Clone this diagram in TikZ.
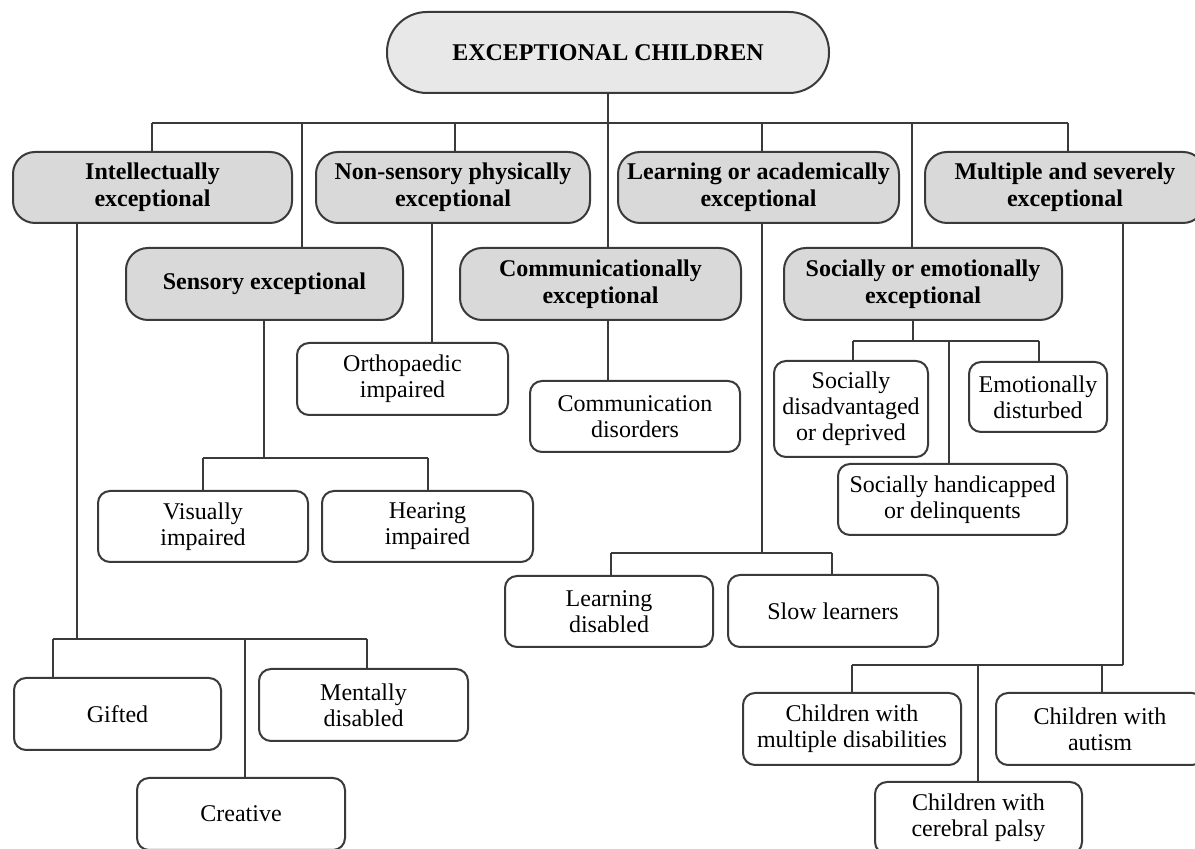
\documentclass[tikz,border=0pt]{standalone}
\usepackage{fontspec}
\setmainfont{Liberation Serif}
\definecolor{linec}{HTML}{3A3A3A}
\definecolor{grayf}{HTML}{D9D9D9}
\definecolor{topf}{HTML}{E8E8E8}
\tikzset{
  wbox/.style={draw=linec, line width=1pt, rounded corners=6pt, fill=white, align=center, inner sep=0pt,
    font=\fontsize{12}{13}\selectfont},
  gbox/.style={draw=linec, line width=1pt, rounded corners=11pt, fill=grayf, align=center, inner sep=0pt,
    font=\bfseries\fontsize{12}{13.5}\selectfont, minimum height=35.5pt},
  conn/.style={draw=linec, line width=1pt}
}
\begin{document}
\begin{tikzpicture}[x=0.5pt,y=-0.5pt]
\clip (0,0) rectangle (1195,849);
\fill[white] (0,0) rectangle (1195,849);
% root
\node[draw=linec, line width=1pt, rounded corners=20pt, fill=topf, minimum width=221pt, minimum height=40.5pt,
  inner sep=0pt, font=\bfseries\fontsize{12}{14}\selectfont] (root) at (608,52.5) {EXCEPTIONAL CHILDREN};
% level 1
\node[gbox, minimum width=139.5pt] (intel) at (152.5,187.5) {Intellectually\\exceptional};
\node[gbox, minimum width=137pt] (nons) at (453,187.5) {Non-sensory physically\\exceptional};
\node[gbox, minimum width=140.5pt] (learn) at (758.5,187.5) {Learning or academically\\exceptional};
\node[gbox, minimum width=140pt] (multi) at (1065,187.5) {Multiple and severely\\exceptional};
% level 2
\node[gbox, minimum width=138.5pt, minimum height=36pt] (sens) at (264.5,284) {Sensory exceptional};
\node[gbox, minimum width=140.5pt, minimum height=36pt] (comm) at (600.5,284) {Communicationally\\exceptional};
\node[gbox, minimum width=139pt, minimum height=36pt] (soc) at (923,284) {Socially or emotionally\\exceptional};
% leaves
\node[wbox, minimum width=105.5pt, minimum height=36pt] (ortho) at (402.5,379) {Orthopaedic\\impaired};
\node[wbox, minimum width=105pt, minimum height=35.5pt] (commd) at (635,416.5) {Communication\\disorders};
\node[wbox, minimum width=105pt, minimum height=35.5pt] (vis) at (203,526.5) {Visually\\impaired};
\node[wbox, minimum width=105.5pt, minimum height=35.5pt] (hear) at (427.5,526.5) {Hearing\\impaired};
\node[wbox, minimum width=103.5pt, minimum height=36pt] (gifted) at (117.5,714) {Gifted};
\node[wbox, minimum width=104.5pt, minimum height=36pt] (mental) at (363.5,705) {Mentally\\disabled};
\node[wbox, minimum width=104pt, minimum height=36pt] (creative) at (241,814) {Creative};
\node[wbox, minimum width=104pt, minimum height=35.5pt] (ldis) at (609,611.5) {Learning\\disabled};
\node[wbox, minimum width=105pt, minimum height=36pt] (slow) at (833,611) {Slow learners};
\node[wbox, minimum width=77pt, minimum height=48pt] (sdis) at (851,409) {Socially\\disadvantaged\\or deprived};
\node[wbox, minimum width=69pt, minimum height=35pt] (emo) at (1038,397) {Emotionally\\disturbed};
\node[wbox, minimum width=114.5pt, minimum height=35.5pt] (shand) at (952.5,499.5) {Socially handicapped\\or delinquents};
\node[wbox, minimum width=109pt, minimum height=36pt] (cmult) at (852,729) {Children with\\multiple disabilities};
\node[wbox, minimum width=104pt, minimum height=36pt] (caut) at (1100,729) {Children with\\autism};
\node[wbox, minimum width=103.5pt, minimum height=36pt] (ccer) at (978.5,818) {Children with\\cerebral palsy};
% main bar
\coordinate (rootbar) at (608,123);
\coordinate (barL) at (152,123);
\coordinate (barR) at (1068,123);
\draw[conn] (root.south) -- (rootbar);
\draw[conn] (barL) -- (barR);
\draw[conn] (barL) -- (152,0 |- intel.north);
\draw[conn] (302,123) -- (302,0 |- sens.north);
\draw[conn] (455,123) -- (455,0 |- nons.north);
\draw[conn] (rootbar) -- (608,0 |- comm.north);
\draw[conn] (762,123) -- (762,0 |- learn.north);
\draw[conn] (912,123) -- (912,0 |- soc.north);
\draw[conn] (barR) -- (1068,0 |- multi.north);
% intellectually
\coordinate (ib) at (77,639);
\draw[conn] (77,0 |- intel.south) -- (ib);
\draw[conn] (53,639) -- (367,639);
\draw[conn] (53,639) -- (53,0 |- gifted.north);
\draw[conn] (245,639) -- (245,0 |- creative.north);
\draw[conn] (367,639) -- (367,0 |- mental.north);
% sensory
\draw[conn] (264,0 |- sens.south) -- (264,458);
\draw[conn] (203,458) -- (427.5,458);
\draw[conn] (203,458) -- (vis.north);
\draw[conn] (427.5,458) -- (hear.north);
% non-sensory
\draw[conn] (432,0 |- nons.south) -- (432,0 |- ortho.north);
% communicationally
\draw[conn] (608,0 |- comm.south) -- (608,0 |- commd.north);
% learning
\draw[conn] (762,0 |- learn.south) -- (762,553);
\draw[conn] (611,553) -- (832,553);
\draw[conn] (611,553) -- (611,0 |- ldis.north);
\draw[conn] (832,553) -- (832,0 |- slow.north);
% socially
\draw[conn] (913,0 |- soc.south) -- (913,341);
\draw[conn] (853,341) -- (1039,341);
\draw[conn] (853,341) -- (853,0 |- sdis.north);
\draw[conn] (1039,341) -- (1039,0 |- emo.north);
\draw[conn] (949,341) -- (949,0 |- shand.north);
% multiple
\draw[conn] (1123,0 |- multi.south) -- (1123,665);
\draw[conn] (852,665) -- (1123,665);
\draw[conn] (852,665) -- (852,0 |- cmult.north);
\draw[conn] (978,665) -- (978,0 |- ccer.north);
\draw[conn] (1102,665) -- (1102,0 |- caut.north);
\end{tikzpicture}
\end{document}
